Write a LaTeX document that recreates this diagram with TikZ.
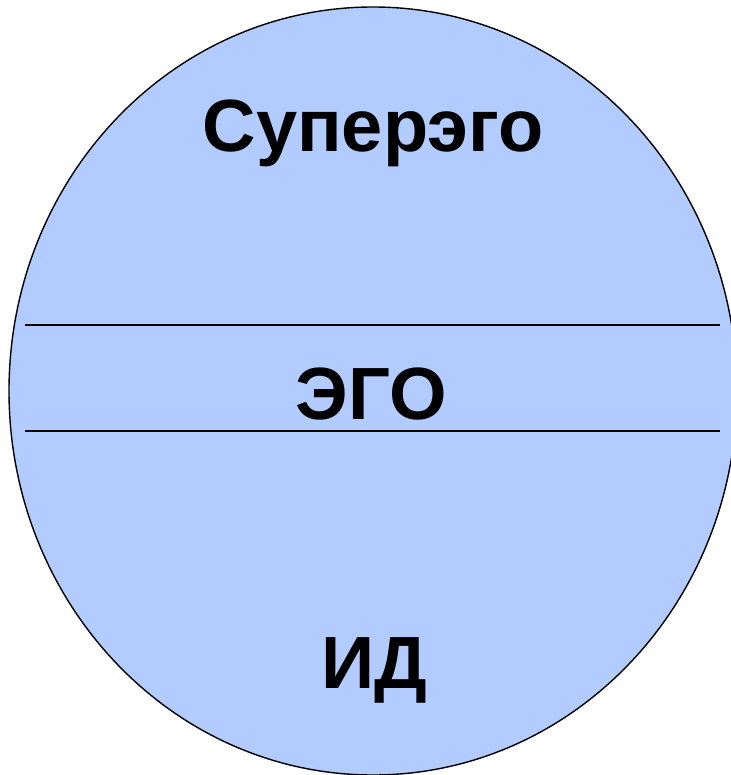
\documentclass[tikz,border=0pt]{standalone}
\usepackage{fontspec}
\setmainfont{Liberation Sans}
\usepackage{tikz}
\definecolor{psycheblue}{RGB}{179,204,255}

\begin{document}
\begin{tikzpicture}[x=1pt, y=-1pt, line width=1.4pt,
    layer/.style={font=\fontsize{74}{86}\selectfont\bfseries, anchor=base, inner sep=0pt}]

    \useasboundingbox (0,0) rectangle (730,775);

    % Define the circle
    \draw[fill=psycheblue] (373,391) ellipse [x radius=364, y radius=384];

    % Borders between the layers
    \coordinate (upL) at (25,325);
    \coordinate (upR) at (720,325);
    \coordinate (loL) at (25,431);
    \coordinate (loR) at (720,431);
    \draw (upL) -- (upR);
    \draw (loL) -- (loR);

    % Define nodes
    \node (Superego) [layer] at (373,152) {Суперэго};
    \node (Ego) [layer] at (371,419) {ЭГО};
    \node (Id) [layer] at (374,688) {ИД};

\end{tikzpicture}
\end{document}
